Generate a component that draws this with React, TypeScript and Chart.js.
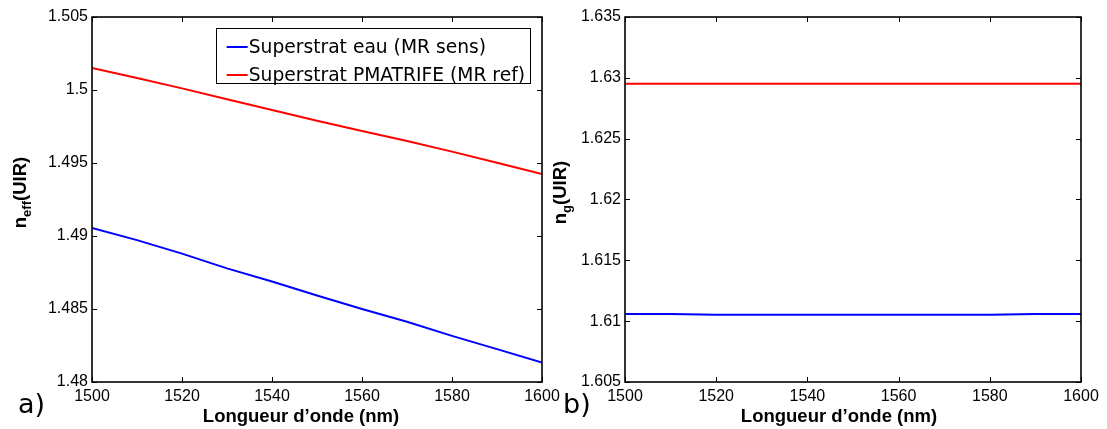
import React, { useEffect, useRef } from "react";
import { Chart, registerables } from "chart.js";

Chart.register(...registerables);

// ---------- data ----------
const wavelengths = [1500, 1510, 1520, 1530, 1540, 1550, 1560, 1570, 1580, 1590, 1600];
const neffEau = [1.49055, 1.48972, 1.48879, 1.48778, 1.48688, 1.48592, 1.485, 1.48413, 1.48316, 1.48225, 1.48134];
const neffPmatrife = [1.50151, 1.50082, 1.50011, 1.49936, 1.49863, 1.4979, 1.49719, 1.49651, 1.49578, 1.49502, 1.49425];
const ngEau = [1.61058, 1.61058, 1.61052, 1.61052, 1.61052, 1.61052, 1.61052, 1.61052, 1.61052, 1.61058, 1.61058];
const ngPmatrife = [1.62951, 1.62951, 1.62951, 1.62951, 1.62951, 1.62951, 1.62951, 1.62951, 1.62951, 1.62951, 1.62951];
const xTicks = [1500, 1520, 1540, 1560, 1580, 1600];
const neffTicks = [1.48, 1.485, 1.49, 1.495, 1.5, 1.505];
const ngTicks = [1.605, 1.61, 1.615, 1.62, 1.625, 1.63, 1.635];
const seriesLabels = ["Superstrat eau (MR sens)", "Superstrat PMATRIFE (MR ref)"];
const seriesColors = ["#0000ff", "#ff0000"];
const xTitle = "Longueur d\u2019onde (nm)";

const TICK_FONT = '"Liberation Sans", Arial, sans-serif';
const LEGEND_FONT = '"DejaVu Sans", sans-serif';

const decorPlugin = {
  id: "decor",
  afterDraw(chart: any, _args: any, o: any) {
    const { ctx, chartArea: a, scales } = chart;
    const xs = scales.x;
    const ys = scales.y;
    ctx.save();
    // box
    ctx.strokeStyle = "#000";
    ctx.lineWidth = 1.6;
    ctx.strokeRect(a.left, a.top, a.right - a.left, a.bottom - a.top);
    // inward ticks
    ctx.lineWidth = 1;
    const tl = 5;
    ctx.beginPath();
    xs.ticks.forEach((t: any) => {
      const px = Math.round(xs.getPixelForValue(t.value)) + 0.5;
      ctx.moveTo(px, a.bottom);
      ctx.lineTo(px, a.bottom - tl);
      ctx.moveTo(px, a.top);
      ctx.lineTo(px, a.top + tl);
    });
    ys.ticks.forEach((t: any) => {
      const py = Math.round(ys.getPixelForValue(t.value)) + 0.5;
      ctx.moveTo(a.left, py);
      ctx.lineTo(a.left + tl, py);
      ctx.moveTo(a.right, py);
      ctx.lineTo(a.right - tl, py);
    });
    ctx.stroke();

    // x title
    ctx.fillStyle = "#000";
    ctx.font = `bold 18.5px ${TICK_FONT}`;
    ctx.textAlign = "center";
    ctx.textBaseline = "alphabetic";
    ctx.fillText(xTitle, (a.left + a.right) / 2 + o.xTitleShift, a.bottom + 40);

    // y title (rotated, with subscript)
    ctx.save();
    ctx.translate(a.left - o.yTitleOffset, (a.top + a.bottom) / 2 - 7);
    ctx.rotate(-Math.PI / 2);
    const mainFont = `bold 18.5px ${TICK_FONT}`;
    const subFont = `bold 13px ${TICK_FONT}`;
    ctx.font = mainFont;
    const w1 = ctx.measureText(o.yMain).width;
    const w3 = ctx.measureText(o.ySuffix).width;
    ctx.font = subFont;
    const w2 = ctx.measureText(o.ySub).width;
    const total = w1 + w2 + w3;
    let x0 = -total / 2;
    ctx.textAlign = "left";
    ctx.textBaseline = "alphabetic";
    ctx.font = mainFont;
    ctx.fillText(o.yMain, x0, 0);
    x0 += w1;
    ctx.font = subFont;
    ctx.fillText(o.ySub, x0, 5);
    x0 += w2;
    ctx.font = mainFont;
    ctx.fillText(o.ySuffix, x0, 0);
    ctx.restore();

    // panel label
    ctx.font = `27px ${LEGEND_FONT}`;
    ctx.textAlign = "left";
    ctx.textBaseline = "alphabetic";
    ctx.fillText(o.panel, o.panelX, 413);

    // legend
    if (o.legend) {
      ctx.font = `18.7px ${LEGEND_FONT}`;
      const dsets = chart.data.datasets;
      let tw = 0;
      dsets.forEach((d: any) => {
        tw = Math.max(tw, ctx.measureText(d.label).width);
      });
      const right = a.right - 12;
      const left = right - (11 + 21 + 1 + tw + 5);
      const top = a.top + 11;
      const h = 55;
      ctx.fillStyle = "#fff";
      ctx.fillRect(left, top, right - left, h);
      ctx.strokeStyle = "#000";
      ctx.lineWidth = 1;
      ctx.strokeRect(Math.round(left) + 0.5, top + 0.5, Math.round(right - left), h);
      dsets.forEach((d: any, i: number) => {
        const cy = top + 19 + i * 28;
        ctx.strokeStyle = d.borderColor;
        ctx.lineWidth = 2;
        ctx.beginPath();
        ctx.moveTo(left + 11, cy);
        ctx.lineTo(left + 32, cy);
        ctx.stroke();
        ctx.fillStyle = "#000";
        ctx.textBaseline = "middle";
        ctx.fillText(d.label, left + 33, cy + 1);
      });
    }
    ctx.restore();
  },
};

function fmt(v: any) {
  return String(Number(Number(v).toFixed(4)));
}

function makeConfig(p: any): any {
  return {
    type: "line",
    data: {
      datasets: p.series.map((s: number[], i: number) => ({
        label: seriesLabels[i],
        data: wavelengths.map((x, j) => ({ x, y: s[j] })),
        borderColor: seriesColors[i],
        backgroundColor: seriesColors[i],
        borderWidth: 2,
        pointRadius: 0,
        tension: 0,
        fill: false,
      })),
    },
    options: {
      animation: false,
      responsive: false,
      events: [],
      layout: { padding: { left: 0, right: p.padRight, top: 17, bottom: 0 } },
      scales: {
        x: {
          type: "linear",
          min: 1500,
          max: 1600,
          afterBuildTicks: (s: any) => {
            s.ticks = xTicks.map((v) => ({ value: v }));
          },
          afterFit: (s: any) => {
            s.height = 47;
            s.paddingLeft = 0;
            s.paddingRight = 0;
          },
          grid: { display: false, drawTicks: false },
          border: { display: false },
          ticks: {
            autoSkip: false,
            maxRotation: 0,
            minRotation: 0,
            padding: 5,
            color: "#000",
            font: { family: TICK_FONT, size: 16 },
            callback: (v: any) => String(v),
          },
        },
        y: {
          type: "linear",
          min: p.yTicks[0],
          max: p.yTicks[p.yTicks.length - 1],
          afterBuildTicks: (s: any) => {
            s.ticks = p.yTicks.map((v: number) => ({ value: v }));
          },
          afterFit: (s: any) => {
            s.width = p.yWidth;
            s.paddingTop = 0;
            s.paddingBottom = 0;
          },
          grid: { display: false, drawTicks: false },
          border: { display: false },
          ticks: {
            autoSkip: false,
            padding: 4,
            color: "#000",
            font: { family: TICK_FONT, size: 16 },
            callback: (v: any) => fmt(v),
          },
        },
      },
      plugins: {
        legend: { display: false },
        tooltip: { enabled: false },
        decor: p.decor,
      },
    },
    plugins: [decorPlugin],
  };
}

function Panel(props: any) {
  const ref = useRef<HTMLCanvasElement>(null);
  useEffect(() => {
    const chart = new Chart(ref.current as HTMLCanvasElement, makeConfig(props.cfg));
    return () => chart.destroy();
  }, []);
  return (
    <canvas
      ref={ref}
      width={props.width}
      height={429}
      style={{ position: "absolute", left: props.left, top: 0, width: props.width, height: 429 }}
    />
  );
}

export default function App() {
  const cfgA = {
    series: [neffEau, neffPmatrife],
    yTicks: neffTicks,
    yWidth: 92,
    padRight: 18,
    decor: {
      legend: true,
      yMain: "n",
      ySub: "eff",
      ySuffix: "(UIR)",
      yTitleOffset: 66,
      xTitleShift: -16,
      panel: "a)",
      panelX: 18,
    },
  };
  const cfgB = {
    series: [ngEau, ngPmatrife],
    yTicks: ngTicks,
    yWidth: 80,
    padRight: 26,
    decor: {
      legend: false,
      yMain: "n",
      ySub: "g",
      ySuffix: "(UIR)",
      yTitleOffset: 59,
      xTitleShift: -14,
      panel: "b)",
      panelX: 18,
    },
  };
  return (
    <div style={{ position: "fixed", left: 0, top: 0, width: 1107, height: 429, background: "#fff" }}>
      <Panel cfg={cfgA} left={0} width={560} />
      <Panel cfg={cfgB} left={545} width={562} />
    </div>
  );
}
